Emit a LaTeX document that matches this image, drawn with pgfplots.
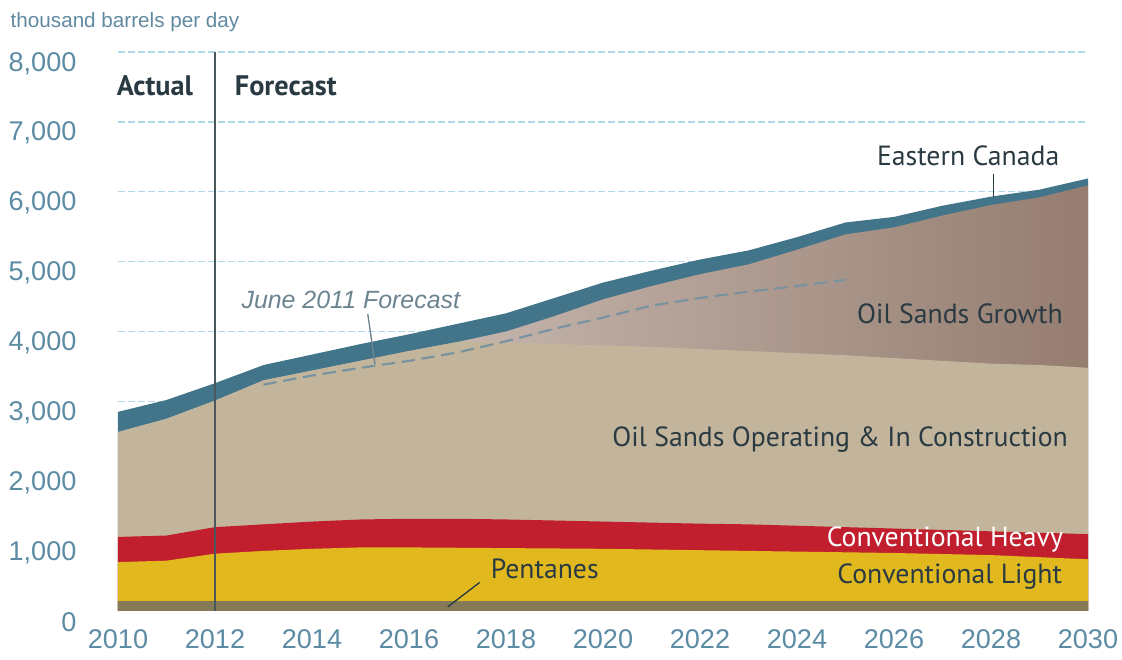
\documentclass[border=0pt]{standalone}
\usepackage{pgfplots}
\pgfplotsset{compat=1.18}
\usepackage{pgfplotstable}
\usepackage{fontspec}
\setmainfont{Liberation Sans}
\newfontfamily\myr{PT Sans}
\definecolor{ecblue}{HTML}{43758A}
\definecolor{optan}{HTML}{C2B59B}
\definecolor{heavyred}{HTML}{C11F2E}
\definecolor{lightgold}{HTML}{E1B91F}
\definecolor{pentol}{HTML}{857A57}
\definecolor{gridblue}{HTML}{B0D8E8}
\definecolor{ticktxt}{HTML}{5C8BA4}
\definecolor{darktxt}{HTML}{2A3A42}
\definecolor{fcdash}{HTML}{7892A0}
\definecolor{growA}{HTML}{DED3CD}
\definecolor{growB}{HTML}{C7B7AE}
\definecolor{growC}{HTML}{957D70}

% cumulative tops (thousand barrels per day)
\pgfplotstableread{
year pen light heavy op growth ec
2010 140 700 1060 2560 2560 2850
2011 140 720 1080 2750 2750 3020
2012 140 820 1200 3010 3010 3260
2013 140 860 1240 3300 3300 3520
2014 140 890 1280 3440 3440 3670
2015 140 910 1310 3580 3580 3820
2016 140 910 1320 3720 3720 3960
2017 140 905 1320 3850 3850 4110
2018 140 900 1310 3840 4000 4260
2019 140 895 1295 3820 4220 4480
2020 140 890 1280 3800 4460 4700
2021 140 880 1265 3780 4650 4870
2022 140 870 1250 3750 4820 5030
2023 140 860 1240 3720 4960 5160
2024 140 850 1220 3690 5170 5350
2025 140 840 1200 3660 5390 5560
2026 140 830 1180 3620 5490 5640
2027 140 815 1160 3580 5660 5800
2028 140 800 1140 3540 5810 5930
2029 140 770 1120 3520 5920 6030
2030 140 740 1100 3480 6090 6190
}\datatab

\pgfplotstableread{
year fc
2013 3240
2014 3370
2015 3480
2016 3580
2017 3700
2018 3860
2019 4040
2020 4200
2021 4370
2022 4480
2023 4570
2024 4650
2025 4740
}\fctab

\begin{document}
\begin{tikzpicture}
\begin{axis}[
  scale only axis,
  width=727.5pt, height=419.25pt,
  xmin=2010, xmax=2030, ymin=0, ymax=8000,
  clip=false,
  axis line style={draw=none},
  tick style={draw=none},
  xtick={2010,2012,...,2030},
  xticklabels={2010,2012,2014,2016,2018,2020,2022,2024,2026,2028,2030},
  ytick={1000,2000,...,8000},
  yticklabels={{1,000},{2,000},{3,000},{4,000},{5,000},{6,000},{7,000},{8,000}},
  extra y ticks={0},
  extra y tick labels={0},
  extra y tick style={grid=none},
  ymajorgrids,
  grid style={color=gridblue, line width=1pt, dash pattern=on 5pt off 2.5pt},
  ticklabel style={font=\fontsize{20.3}{23}\selectfont, text=ticktxt, inner sep=0pt},
  xticklabel style={anchor=north, yshift=-14pt},
  yticklabel style={anchor=east, xshift=-31pt, yshift=-8.5pt},
]
\addplot[draw=none, fill=ecblue] table[x=year, y=ec]{\datatab} \closedcycle;
\addplot[draw=none, left color=growA, middle color=growB, right color=growC] table[x=year, y=growth]{\datatab} \closedcycle;
\addplot[draw=none, fill=optan] table[x=year, y=op]{\datatab} \closedcycle;
\addplot[draw=none, fill=heavyred] table[x=year, y=heavy]{\datatab} \closedcycle;
\addplot[draw=none, fill=lightgold] table[x=year, y=light]{\datatab} \closedcycle;
\addplot[draw=none, fill=pentol] table[x=year, y=pen]{\datatab} \closedcycle;
\addplot[color=fcdash, line width=1.6pt, dash pattern=on 10pt off 5pt] table[x=year, y=fc]{\fctab};

\draw[color=darktxt!85, line width=1pt] (axis cs:2012,0) -- (axis cs:2012,8000);

\node[font=\myr\bfseries\fontsize{21.2}{23}\selectfont, text=darktxt] at (axis cs:2010.76,7520) {Actual};
\node[font=\myr\bfseries\fontsize{21.2}{23}\selectfont, text=darktxt] at (axis cs:2013.46,7510) {Forecast};

\node[font=\myr\fontsize{20.8}{23}\selectfont, text=darktxt] at (axis cs:2027.53,6520) {Eastern Canada};
\draw[color=darktxt, line width=1pt] (axis cs:2028.05,6260) -- (axis cs:2028.05,5930);

\node[font=\myr\fontsize{20.8}{23}\selectfont, text=darktxt] at (axis cs:2027.36,4260) {Oil Sands Growth};
\node[font=\myr\fontsize{20.8}{23}\selectfont, text=darktxt] at (axis cs:2024.89,2450) {Oil Sands Operating \& In Construction};
\node[font=\myr\fontsize{20.8}{23}\selectfont, text=white] at (axis cs:2027.05,1020) {Conventional Heavy};
\node[font=\myr\fontsize{20.8}{23}\selectfont, text=darktxt] at (axis cs:2027.15,490) {Conventional Light};
\node[font=\myr\fontsize{20.8}{23}\selectfont, text=darktxt] at (axis cs:2018.8,600) {Pentanes};
\draw[color=darktxt, line width=1pt] (axis cs:2017.46,410) -- (axis cs:2016.8,60);

\node[font=\itshape\fontsize{18.7}{21}\selectfont, text=fcdash!90!black] at (axis cs:2014.8,4450) {June 2011 Forecast};
\draw[color=fcdash!90!black, line width=1pt] (axis cs:2015.15,4250) -- (axis cs:2015.3,3530);
\end{axis}
\node[anchor=west, font=\fontsize{15.5}{17}\selectfont, text=ticktxt!90!gray] at ([xshift=-84pt, yshift=22.5pt]current axis.north west) {thousand barrels per day};
\path ([xshift=-88.5pt, yshift=-36.75pt]current axis.south west) rectangle ++(841.5pt,495pt);
\end{tikzpicture}
\end{document}
